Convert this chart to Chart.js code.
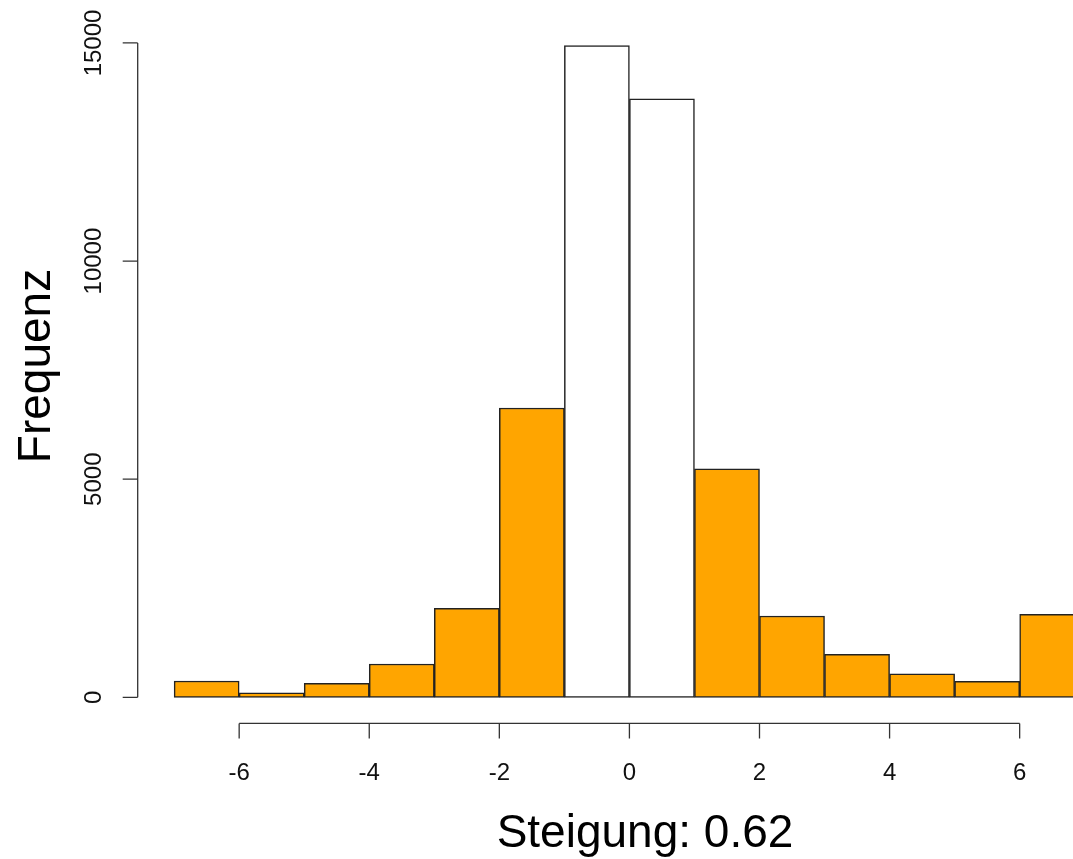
<!DOCTYPE html>
<html>
<head>
<meta charset="utf-8">
<script src="https://cdn.jsdelivr.net/npm/chart.js@4"></script>
<style>
  body { margin: 0; background: #fff; }
  canvas { display: block; }
</style>
</head>
<body>
<canvas id="histChart" width="1073" height="859"></canvas>
<script>
// bins of width 1, lower edges
const binStarts = [-7, -6, -5, -4, -3, -2, -1, 0, 1, 2, 3, 4, 5, 6];
const counts = [374, 105, 321, 764, 2041, 6633, 14940, 13720, 5235, 1865, 986, 541, 367, 1903];
const xTicks = [-6, -4, -2, 0, 2, 4, 6];
const yTicks = [0, 5000, 10000, 15000];
const xTitle = 'Steigung: 0.62';
const yTitle = 'Frequenz';

const FONT = '"Liberation Sans", Arial, sans-serif';
const maxCount = Math.max(...counts);

// R style axes: offset from the bars, drawn only over the tick range
const rAxes = {
    id: 'rAxes',
    afterDraw(chart) {
        const ctx = chart.ctx;
        const xs = chart.scales.x, ys = chart.scales.y;
        const area = chart.chartArea;
        ctx.save();
        ctx.strokeStyle = '#333';
        ctx.lineWidth = 1.3;
        ctx.fillStyle = '#111';

        // x axis
        const yAx = area.bottom;
        ctx.beginPath();
        ctx.moveTo(xs.getPixelForValue(xTicks[0]), yAx);
        ctx.lineTo(xs.getPixelForValue(xTicks[xTicks.length - 1]), yAx);
        xTicks.forEach(t => {
            const px = xs.getPixelForValue(t);
            ctx.moveTo(px, yAx);
            ctx.lineTo(px, yAx + 15);
        });
        ctx.stroke();
        ctx.font = '24px ' + FONT;
        ctx.textAlign = 'center';
        ctx.textBaseline = 'alphabetic';
        xTicks.forEach(t => ctx.fillText(String(t), xs.getPixelForValue(t), 780));

        // y axis
        const xAx = area.left;
        ctx.beginPath();
        ctx.moveTo(xAx, ys.getPixelForValue(yTicks[0]));
        ctx.lineTo(xAx, ys.getPixelForValue(yTicks[yTicks.length - 1]));
        yTicks.forEach(t => {
            const py = ys.getPixelForValue(t);
            ctx.moveTo(xAx, py);
            ctx.lineTo(xAx - 15, py);
        });
        ctx.stroke();
        yTicks.forEach(t => {
            ctx.save();
            ctx.translate(101, ys.getPixelForValue(t));
            ctx.rotate(-Math.PI / 2);
            ctx.fillText(String(t), 0, 0);
            ctx.restore();
        });

        // titles
        ctx.fillStyle = '#000';
        ctx.font = '46px ' + FONT;
        ctx.fillText(xTitle, 645, 847);
        ctx.save();
        ctx.translate(50, 366);
        ctx.rotate(-Math.PI / 2);
        ctx.fillText(yTitle, 0, 0);
        ctx.restore();
        ctx.restore();
    }
};

const histCtx = document.getElementById('histChart').getContext('2d');
const histChart = new Chart(histCtx, {
    type: 'bar',
    data: {
        datasets: [{
            label: yTitle,
            data: binStarts.map((b, i) => ({ x: b + 0.5, y: counts[i] })),
            backgroundColor: binStarts.map(b => (b >= -1 && b < 1) ? '#ffffff' : '#FFA500'),
            borderColor: '#222',
            borderWidth: 1.5,
            borderSkipped: false,
            barPercentage: 1,
            categoryPercentage: 1,
            grouped: false
        }]
    },
    options: {
        responsive: false,
        animation: false,
        layout: {
            padding: { left: 137.7, right: 0, top: 19.5, bottom: 135.6 }
        },
        plugins: {
            legend: { display: false },
            tooltip: { enabled: false }
        },
        scales: {
            x: {
                type: 'linear',
                display: false,
                offset: false,
                min: -7.56,
                max: 6.82,
                // ticks on the bin edges so the bar width is one bin
                afterBuildTicks: scale => {
                    scale.ticks = binStarts.map(b => ({ value: b }));
                }
            },
            y: {
                display: false,
                min: -0.04 * maxCount,
                max: 1.04 * maxCount
            }
        }
    },
    plugins: [rAxes]
});
</script>
</body>
</html>
